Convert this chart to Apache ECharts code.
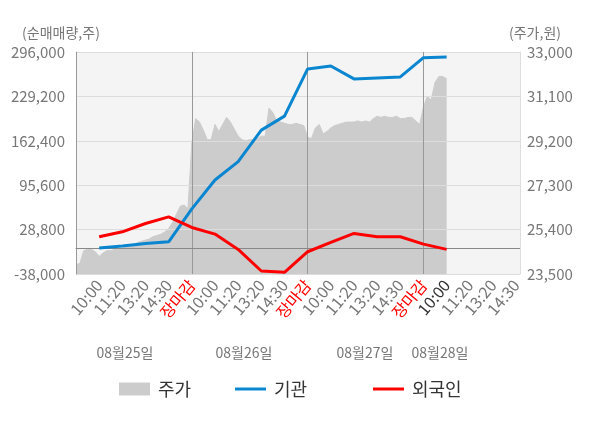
<!DOCTYPE html>
<html>
<head>
<meta charset="utf-8">
<script src="https://cdn.jsdelivr.net/npm/echarts@6/dist/echarts.min.js"></script>
<style>
  html, body { margin: 0; padding: 0; background: #fff; }
  #chart { width: 600px; height: 428px; }
</style>
</head>
<body>
<div id="chart"></div>
<script>
// 축 눈금
const dayTicks = ['10:00', '11:20', '13:20', '14:30', '장마감']
const days = ['08월25일', '08월26일', '08월27일', '08월28일']
const SubSteps = 6 // 눈금 하나를 6칸으로
const Slots = 116  // 0 .. 115

// 주가 (원), 칸마다 한 값
const price = [
  23900, 23950, 24500, 24550, 24550, 24450, 24250, 24400, 24500, 24500,
  24550, 24550, 24600, 24650, 24700, 24750, 24850, 24900, 24950, 25000,
  25100, 25150, 25200, 25300, 25450, 25700, 26050, 26400, 26450, 26300,
  29100, 30150, 30000, 29650, 29250, 29250, 29900, 29600, 29900, 30200,
  30000, 29700, 29400, 29250, 29200, 29250, 29250, 29300, 29400, 29400,
  30600, 30400, 30050, 30000, 29950, 29900, 29900, 29950, 29900, 29850,
  29350, 29300, 29750, 29900, 29500, 29600, 29750, 29850, 29900, 29950,
  30000, 30000, 30000, 30050, 30000, 30050, 30000, 30150, 30250, 30200,
  30250, 30200, 30200, 30250, 30150, 30150, 30200, 30200, 30050, 29900,
  30650, 31100, 30950, 31700, 31950, 31950, 31850
]

// 순매매량 (주), 눈금마다 (25일 10:00 ~ 28일 10:00)
const institution = [
  1000, 4000, 8000, 10500, 60000,
  103500, 131000, 178500, 199500, 270500,
  275000, 255500, 257000, 258500, 287500,
  288500
]
const foreigner = [
  18000, 25500, 38000, 48000, 32000,
  22000, -1000, -33500, -35500, -4500,
  9500, 23000, 18000, 18000, 7000,
  -1000
]

const leftTicks = { min: -38000, max: 296000, interval: 66800 }
const rightTicks = { min: 23500, max: 33000, interval: 1900 }

const PriceColor = '#cccccc'
const InstColor = '#0a86d0'
const ForeignColor = '#ff0000'

// 카테고리와 라벨
const categories = []
const tickLabels = []
for (let i = 0; i < Slots; i++) {
  categories.push('s' + i)
  const k = i / SubSteps
  if (i > 0 && i % SubSteps === 0) {
    tickLabels.push(dayTicks[(k - 1) % dayTicks.length])
  } else {
    tickLabels.push('')
  }
}
const CurrentLabel = 16 * SubSteps // 28일 10:00

const onTicks = (values) => {
  const res = new Array(Slots).fill(null)
  values.forEach((v, j) => { res[(j + 1) * SubSteps] = v })
  return res
}

const chart = echarts.init(document.getElementById('chart'))
const font = '"Noto Sans CJK KR", "Noto Sans", sans-serif'

const legendText = { fontFamily: font, fontSize: 18, color: '#333', padding: [0, 0, 0, 3] }

const option = {
  animation: false,
  textStyle: { fontFamily: font },
  grid: {
    left: 76, right: 80, top: 52, bottom: 154,
    show: true, backgroundColor: '#f4f4f4', borderWidth: 0
  },
  legend: [
    {
      data: [{ name: '주가', icon: 'rect', itemStyle: { color: PriceColor } }],
      left: 114, top: 375, itemWidth: 31, itemHeight: 13
    },
    {
      data: [{ name: '기관', icon: 'rect', itemStyle: { color: InstColor } }],
      left: 230, top: 375, itemWidth: 31, itemHeight: 3
    },
    {
      data: [{ name: '외국인', icon: 'rect', itemStyle: { color: ForeignColor } }],
      left: 368, top: 375, itemWidth: 31, itemHeight: 3
    }
  ].map(l => Object.assign(l, { selectedMode: false, textStyle: legendText })),
  xAxis: {
    type: 'category',
    data: categories,
    boundaryGap: false,
    axisLine: { lineStyle: { color: '#999' } },
    axisTick: {
      show: true, length: 5, lineStyle: { color: '#999' },
      interval: (i) => i % 30 === 0 || i === Slots - 1
    },
    axisLabel: {
      interval: (i) => tickLabels[i] !== '',
      rotate: 50,
      margin: 8,
      fontSize: 16,
      color: '#777',
      formatter: (value, i) => {
        const t = tickLabels[i]
        if (t === '장마감') return '{r|' + t + '}'
        if (i === CurrentLabel) return '{d|' + t + '}'
        return t
      },
      rich: {
        r: { color: '#ff0000', fontSize: 16, fontFamily: font },
        d: { color: '#333', fontSize: 16, fontFamily: font }
      }
    },
    splitLine: { show: false }
  },
  yAxis: [
    {
      type: 'value',
      min: leftTicks.min, max: leftTicks.max, interval: leftTicks.interval,
      z: 3,
      axisLine: { show: true, lineStyle: { color: '#999' } },
      axisTick: { show: false },
      axisLabel: {
        fontSize: 15, color: '#777', margin: 11,
        formatter: (v) => v.toLocaleString('en-US')
      },
      splitLine: { show: true, lineStyle: { color: '#dddddd' } }
    },
    {
      type: 'value',
      min: rightTicks.min, max: rightTicks.max, interval: rightTicks.interval,
      z: 3,
      axisLine: { show: true, lineStyle: { color: '#dddddd' } },
      axisTick: { show: false },
      axisLabel: {
        fontSize: 15, color: '#777', margin: 7,
        formatter: (v) => v.toLocaleString('en-US')
      },
      splitLine: { show: false }
    }
  ],
  series: [
    {
      name: '주가',
      type: 'line',
      yAxisIndex: 1,
      z: 1,
      data: price,
      showSymbol: false,
      symbol: 'none',
      itemStyle: { color: PriceColor },
      lineStyle: { color: PriceColor, width: 1 },
      areaStyle: { color: PriceColor, opacity: 1, origin: 'start' },
      markLine: {
        silent: true,
        symbol: 'none',
        label: { show: false },
        lineStyle: { color: '#999', type: 'solid', width: 1 },
        data: [{ xAxis: 0 }, { xAxis: 30 }, { xAxis: 60 }, { xAxis: 90 }]
      }
    },
    {
      name: '기관',
      type: 'line',
      yAxisIndex: 0,
      z: 6,
      data: onTicks(institution),
      connectNulls: true,
      showSymbol: false,
      symbol: 'none',
      itemStyle: { color: InstColor },
      lineStyle: { color: InstColor, width: 3 },
      markLine: {
        silent: true,
        symbol: 'none',
        label: { show: false },
        lineStyle: { color: '#888', type: 'solid', width: 1 },
        data: [{ yAxis: 0 }]
      }
    },
    {
      name: '외국인',
      type: 'line',
      yAxisIndex: 0,
      z: 6,
      data: onTicks(foreigner),
      connectNulls: true,
      showSymbol: false,
      symbol: 'none',
      itemStyle: { color: ForeignColor },
      lineStyle: { color: ForeignColor, width: 3 }
    }
  ],
  graphic: [
    { type: 'text', x: 61, y: 33, style: { text: '(순매매량,주)', font: '14px ' + font, fill: '#777', textAlign: 'center', textVerticalAlign: 'middle' } },
    { type: 'text', x: 535, y: 33, style: { text: '(주가,원)', font: '14px ' + font, fill: '#777', textAlign: 'center', textVerticalAlign: 'middle' } }
  ].concat(days.map((d, i) => ({
    type: 'text',
    x: [125, 244, 365, 440][i],
    y: 353,
    style: { text: d, font: '14px ' + font, fill: '#777', textAlign: 'center', textVerticalAlign: 'middle' }
  })))
}

chart.setOption(option)
</script>
</body>
</html>
